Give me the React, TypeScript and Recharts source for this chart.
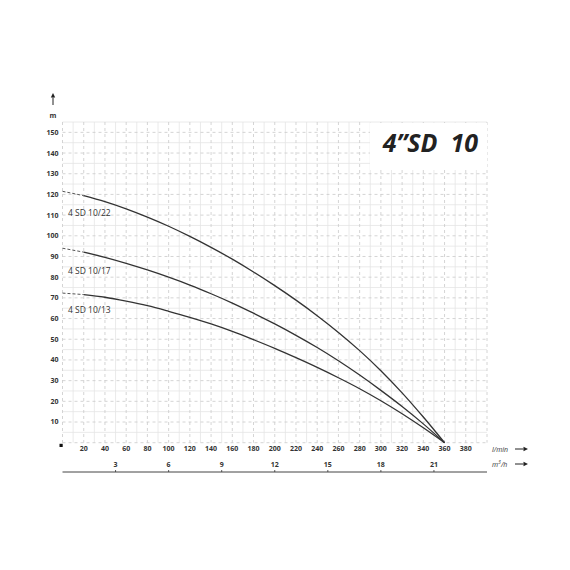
import { CartesianGrid, Line, LineChart, XAxis, YAxis } from 'recharts';

// flow in l/min and head in m
const flowLpm = [0, 20, 40, 60, 80, 100, 120, 140, 160, 180, 200, 220, 240, 260, 280, 300, 320, 340, 360];
const head1022 = [121.5, 119.4, 116.5, 113, 109, 104.6, 99.7, 94.4, 88.7, 82.5, 75.9, 68.9, 61.4, 53.3, 44.5, 34.8, 24.1, 12.4, 0];
const head1017 = [94, 92.1, 89.6, 86.7, 83.5, 80, 76.2, 72, 67.5, 62.6, 57.4, 51.9, 46, 39.6, 32.7, 25.3, 17.5, 9.1, 0];
const head1013 = [72.3, 71.6, 70.3, 68.4, 66.2, 63.5, 60.6, 57.4, 53.8, 49.8, 45.6, 41.1, 36.4, 31.4, 26.1, 20.3, 14, 7.2, 0];

const curveNames = ['4 SD 10/22', '4 SD 10/17', '4 SD 10/13'];
const lpmTicks = [20, 40, 60, 80, 100, 120, 140, 160, 180, 200, 220, 240, 260, 280, 300, 320, 340, 360, 380];
const m3hTicks = [3, 6, 9, 12, 15, 18, 21];
const headTicks = [10, 20, 30, 40, 50, 60, 70, 80, 90, 100, 110, 120, 130, 140, 150];

const gridMajorX = [0, 20, 40, 60, 80, 100, 120, 140, 160, 180, 200, 220, 240, 260, 280, 300, 320, 340, 360, 380, 400];
const gridMinorX = [10, 30, 50, 70, 90, 110, 130, 150, 170, 190, 210, 230, 250, 270, 290, 310, 330, 350, 370, 390];
const gridMajorY = [0, 10, 20, 30, 40, 50, 60, 70, 80, 90, 100, 110, 120, 130, 140, 150];
const gridMinorY = [5, 15, 25, 35, 45, 55, 65, 75, 85, 95, 105, 115, 125, 135, 145, 155];

const rows = flowLpm.map((q, i) => ({
  q,
  a: q >= 20 ? head1022[i] : undefined,
  ad: q <= 20 ? head1022[i] : undefined,
  b: q >= 20 ? head1017[i] : undefined,
  bd: q <= 20 ? head1017[i] : undefined,
  c: q >= 20 ? head1013[i] : undefined,
  cd: q <= 20 ? head1013[i] : undefined,
}));

const font = '"Open Sans", "DejaVu Sans", sans-serif';
const ink = '#333';

function M3hTick(props: any) {
  const { x, y, payload } = props;
  return (
    <g>
      <line x1={x} x2={x} y1={y - 2} y2={y} stroke={ink} strokeWidth={0.8} />
      <text x={x} y={y - 5.5} textAnchor="middle" fontSize={7} fontWeight={700} fill={ink} fontFamily={font}>
        {payload.value}
      </text>
    </g>
  );
}

function Arrow({ x1, y1, x2, y2 }: { x1: number; y1: number; x2: number; y2: number }) {
  const ang = Math.atan2(y2 - y1, x2 - x1);
  const s = 4.5;
  const w = 2.2;
  const bx = x2 - s * Math.cos(ang);
  const by = y2 - s * Math.sin(ang);
  const px = -Math.sin(ang) * w;
  const py = Math.cos(ang) * w;
  return (
    <g>
      <line x1={x1} y1={y1} x2={bx} y2={by} stroke="#222" strokeWidth={1} />
      <polygon points={`${x2},${y2} ${bx + px},${by + py} ${bx - px},${by - py}`} fill="#222" />
    </g>
  );
}

export default function App() {
  return (
    <div style={{ position: 'absolute', left: 0, top: 0, width: 570, height: 570, background: '#fff' }}>
      <LineChart
        width={570}
        height={570}
        data={rows}
        margin={{ top: 122, right: 83, bottom: 78, left: 22.5 }}
      >
        <CartesianGrid
          xAxisId="lpm"
          stroke="#e4e4e4"
          strokeWidth={0.8}
          verticalValues={gridMinorX}
          horizontalValues={gridMinorY}
        />
        <CartesianGrid
          xAxisId="lpm"
          stroke="#c9c9c9"
          strokeWidth={0.8}
          strokeDasharray="3 3"
          verticalValues={gridMajorX}
          horizontalValues={gridMajorY}
        />
        <XAxis
          xAxisId="lpm"
          dataKey="q"
          type="number"
          domain={[0, 400]}
          ticks={lpmTicks}
          height={29.3}
          axisLine={false}
          tickLine={false}
          tickSize={0}
          tickMargin={3}
          interval={0}
          tick={{ fontSize: 7, fontWeight: 700, fill: ink, fontFamily: font }}
        />
        <XAxis
          xAxisId="m3h"
          dataKey={(r: { q: number }) => (r.q * 60) / 1000}
          type="number"
          domain={[0, 24]}
          allowDataOverflow
          ticks={m3hTicks}
          height={20}
          axisLine={{ stroke: '#444', strokeWidth: 1 }}
          tickLine={false}
          tickSize={0}
          tickMargin={0}
          interval={0}
          tick={<M3hTick />}
        />
        <YAxis
          type="number"
          domain={[0, 155]}
          ticks={headTicks}
          width={40}
          axisLine={false}
          tickLine={false}
          tickSize={0}
          tickMargin={4}
          interval={0}
          tick={{ fontSize: 7, fontWeight: 700, fill: ink, fontFamily: font }}
        />
        <Line xAxisId="lpm" type="monotone" dataKey="ad" stroke="#555" strokeWidth={1} strokeDasharray="3 2" dot={false} isAnimationActive={false} />
        <Line xAxisId="lpm" type="monotone" dataKey="a" stroke={ink} strokeWidth={1.3} dot={false} isAnimationActive={false} />
        <Line xAxisId="lpm" type="monotone" dataKey="bd" stroke="#555" strokeWidth={1} strokeDasharray="3 2" dot={false} isAnimationActive={false} />
        <Line xAxisId="lpm" type="monotone" dataKey="b" stroke={ink} strokeWidth={1.3} dot={false} isAnimationActive={false} />
        <Line xAxisId="lpm" type="monotone" dataKey="cd" stroke="#555" strokeWidth={1} strokeDasharray="3 2" dot={false} isAnimationActive={false} />
        <Line xAxisId="lpm" type="monotone" dataKey="c" stroke={ink} strokeWidth={1.3} dot={false} isAnimationActive={false} />
      </LineChart>

      <svg width={570} height={570} style={{ position: 'absolute', left: 0, top: 0, pointerEvents: 'none' }}>
        <rect x={370} y={123} width={117} height={47} fill="#fff" />
        <text x={478} y={152} textAnchor="end" fontSize={25} fontWeight={700} fontStyle="italic" fill="#222" fontFamily={font}>
          4”SD&#160;&#160;10
        </text>

        <Arrow x1={53} y1={105} x2={53} y2={93} />
        <text x={53} y={118} textAnchor="middle" fontSize={7} fontWeight={700} fill={ink} fontFamily={font}>m</text>
        <rect x={59.5} y={443.8} width={3.2} height={3.2} fill="#111" />

        <text x={492} y={451.5} fontSize={7} fontStyle="italic" fill={ink} fontFamily={font}>l/min</text>
        <Arrow x1={515} y1={449} x2={528} y2={449} />
        <text x={492} y={466.5} fontSize={7} fontStyle="italic" fill={ink} fontFamily={font}>
          m<tspan fontSize={5} dy={-2.5}>3</tspan><tspan dy={2.5}>/h</tspan>
        </text>
        <Arrow x1={515} y1={464} x2={528} y2={464} />

        <text x={68} y={216} fontSize={8.5} fill={ink} fontFamily={font}>{curveNames[0]}</text>
        <text x={68} y={274} fontSize={8.5} fill={ink} fontFamily={font}>{curveNames[1]}</text>
        <text x={68} y={313} fontSize={8.5} fill={ink} fontFamily={font}>{curveNames[2]}</text>
      </svg>
    </div>
  );
}
